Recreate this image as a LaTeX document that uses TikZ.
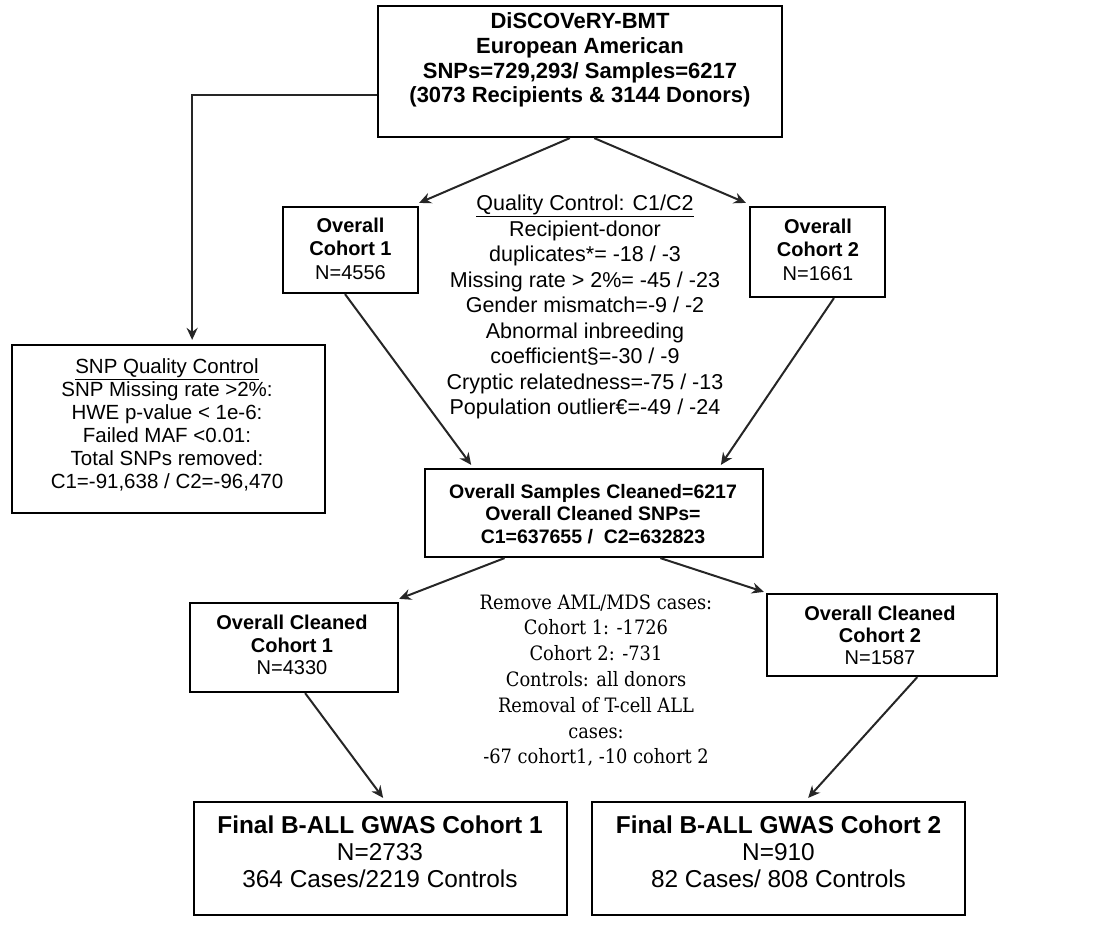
\documentclass[tikz,border=0pt]{standalone}
\usepackage{fontspec}
\newfontfamily\arial{Liberation Sans}
\newfontfamily\midfont{DejaVu Serif Condensed}
\usetikzlibrary{arrows.meta,calc}
\tikzset{
  box/.style={draw=black, line width=2.2pt, rectangle, inner sep=0pt},
  arr/.style={draw=black!85, line width=2pt, -{Stealth[length=12pt,width=11pt,inset=4pt]}},
  plain/.style={draw=black!85, line width=2pt},
  txt/.style={align=center, inner sep=0pt},
}
\begin{document}
\begin{tikzpicture}[x=1pt,y=-1pt]
\useasboundingbox (0,0) rectangle (1103,934);
% boxes
\node[box, minimum width=404pt, minimum height=131pt] (top) at (580,71.5) {};
\node[box, minimum width=135pt, minimum height=86pt] (coh1) at (350.5,250) {};
\node[box, minimum width=135pt, minimum height=90pt] (coh2) at (817.5,252) {};
\node[box, minimum width=313pt, minimum height=168pt] (snpqc) at (168.5,429) {};
\node[box, minimum width=338pt, minimum height=88pt] (clean) at (594,513) {};
\node[box, minimum width=208pt, minimum height=89pt] (ccoh1) at (294,647.5) {};
\node[box, minimum width=230pt, minimum height=82pt] (ccoh2) at (882,635) {};
\node[box, minimum width=373pt, minimum height=113pt] (fin1) at (380.5,858.5) {};
\node[box, minimum width=373pt, minimum height=113pt] (fin2) at (778.5,858.5) {};
% texts
\node[txt, font=\arial\bfseries\fontsize{22}{24.7}\selectfont] (toptxt) at (580,60)
  {DiSCOVeRY-BMT\\European American\\SNPs=729,293/ Samples=6217\\(3073 Recipients \& 3144 Donors)};
\node[txt, font=\arial\fontsize{20}{23.5}\selectfont] (coh1txt) at (350.5,248.5)
  {\textbf{Overall}\\\textbf{Cohort 1}\\N=4556};
\node[txt, font=\arial\fontsize{20}{23.5}\selectfont] (coh2txt) at (818,249.5)
  {\textbf{Overall}\\\textbf{Cohort 2}\\N=1661};
\node[txt, font=\arial\fontsize{21.5}{25.5}\selectfont] (qctxt) at (585,307)
  {\underline{Quality Control: C1/C2}\\Recipient-donor\\duplicates*= -18 / -3\\Missing rate > 2\%= -45 / -23\\Gender mismatch=-9 / -2\\Abnormal inbreeding\\coefficient§=-30 / -9\\Cryptic relatedness=-75 / -13\\Population outlier€=-49 / -24};
\node[txt, font=\arial\fontsize{20.5}{23}\selectfont] (snptxt) at (167,424.5)
  {\underline{SNP Quality Control}\\SNP Missing rate >2\%:\\HWE p-value < 1e-6:\\Failed MAF <0.01:\\Total SNPs removed:\\C1=-91,638 / C2=-96,470};
\node[txt, font=\arial\bfseries\fontsize{19.5}{22.5}\selectfont] (cleantxt) at (593,514)
  {Overall Samples Cleaned=6217\\Overall Cleaned SNPs=\\C1=637655 /\ \ C2=632823};
\node[txt, text=black, font=\midfont\fontsize{19.8}{25.8}\selectfont] (midtxt) at (596,680.5)
  {Remove AML/MDS cases:\\Cohort 1: -1726\\Cohort 2: -731\\Controls: all donors\\Removal of T-cell ALL\\cases:\\-67 cohort1, -10 cohort 2};
\node[txt, font=\arial\fontsize{20}{22.5}\selectfont] (ccoh1txt) at (292,645)
  {\textbf{Overall Cleaned}\\\textbf{Cohort 1}\\N=4330};
\node[txt, font=\arial\fontsize{20}{22}\selectfont] (ccoh2txt) at (880,635)
  {\textbf{Overall Cleaned}\\\textbf{Cohort 2}\\N=1587};
\node[txt, font=\arial\fontsize{24.4}{27}\selectfont] (fin1txt) at (380,852)
  {\textbf{Final B-ALL GWAS Cohort 1}\\N=2733\\364 Cases/2219 Controls};
\node[txt, font=\arial\fontsize{24.4}{27}\selectfont] (fin2txt) at (778.5,852)
  {\textbf{Final B-ALL GWAS Cohort 2}\\N=910\\82 Cases/ 808 Controls};
% connectors
\coordinate (bend) at ($(top.north west)!0.679!(top.south west)$);
\coordinate (snptop) at ($(snpqc.north west)!0.575!(snpqc.north east)$);
\draw[plain] (bend) -| ($(snptop)+(0,-60)$);
\draw[arr] ($(snptop)+(0,-62)$) -- ($(snptop)+(0,-4)$);
\draw[arr] ($(top.south west)!0.475!(top.south east)$) -- ($(coh1.north east)+(0,-3)$);
\draw[arr] ($(top.south west)!0.535!(top.south east)$) -- ($(coh2.north west)+(-3,-3)$);
\draw[arr] ($(coh1.south west)!0.46!(coh1.south east)$) -- ($(clean.north west)!0.139!(clean.north east)+(0,-3)$);
\draw[arr] ($(coh2.south west)!0.62!(coh2.south east)$) -- ($(clean.north west)!0.873!(clean.north east)+(0,-3)$);
\draw[arr] ($(clean.south west)!0.237!(clean.south east)$) -- ($(ccoh1.north east)+(0,-3)$);
\draw[arr] ($(clean.south west)!0.695!(clean.south east)$) -- ($(ccoh2.north west)+(-2,-1)$);
\draw[arr] ($(ccoh1.south west)!0.553!(ccoh1.south east)$) -- ($(fin1.north west)!0.507!(fin1.north east)+(0,-3)$);
\draw[arr] ($(ccoh2.south west)!0.652!(ccoh2.south east)$) -- ($(fin2.north west)!0.579!(fin2.north east)+(0,-3)$);
\end{tikzpicture}
\end{document}
